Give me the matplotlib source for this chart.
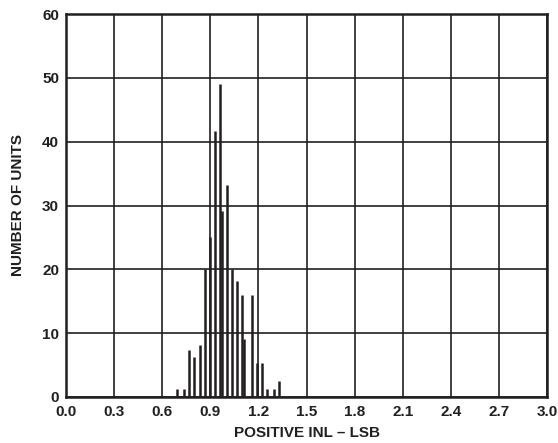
import matplotlib
matplotlib.use('Agg')
from matplotlib import pyplot as plt

# bin positions (LSB) and unit counts
inl_lsb = [0.693, 0.738, 0.770, 0.801, 0.834, 0.865, 0.896, 0.927, 0.958, 0.972, 1.004,
           1.035, 1.066, 1.097, 1.111, 1.159, 1.190, 1.221, 1.252, 1.298, 1.328]
units = [1.3, 1.3, 7.4, 6.3, 8.2, 20.1, 25.0, 41.7, 49.1, 29.1, 33.2,
         20.1, 18.1, 16.0, 9.1, 16.0, 5.4, 5.4, 1.3, 1.3, 2.5]
x_ticks = [0.0, 0.3, 0.6, 0.9, 1.2, 1.5, 1.8, 2.1, 2.4, 2.7, 3.0]
y_ticks = [0, 10, 20, 30, 40, 50, 60]

plt.rcParams['font.family'] = ['Liberation Sans', 'DejaVu Sans']
INK = '#231f20'

fig = plt.figure(figsize=(5.58, 4.43), dpi=100)
ax = fig.add_axes([66/558, 1 - 397/443, (547-66)/558, (397-14)/443])

ax.vlines(inl_lsb, 0, units, colors=INK, linewidth=1.8, zorder=3)

ax.set_xlim(0, 3.0)
ax.set_ylim(0, 60)
ax.set_xticks(x_ticks)
ax.set_xticklabels(["%.1f" % t for t in x_ticks], fontweight='bold', fontsize=11)
ax.set_yticks(y_ticks)
ax.set_yticklabels([str(t) for t in y_ticks], fontweight='bold', fontsize=11)
ax.tick_params(axis='x', length=0, pad=6, colors=INK)
ax.tick_params(axis='y', length=0, pad=5, colors=INK)
ax.grid(True, color=INK, linewidth=1.2, zorder=1)
ax.set_axisbelow(True)
for s in ax.spines.values():
    s.set_linewidth(1.8)
    s.set_color(INK)

ax.set_xlabel("POSITIVE INL – LSB", fontweight='bold', fontsize=11, labelpad=5, color=INK)
ax.set_ylabel("NUMBER OF UNITS", fontweight='bold', fontsize=11, labelpad=12, color=INK)

fig.savefig("out.png", dpi=100)
